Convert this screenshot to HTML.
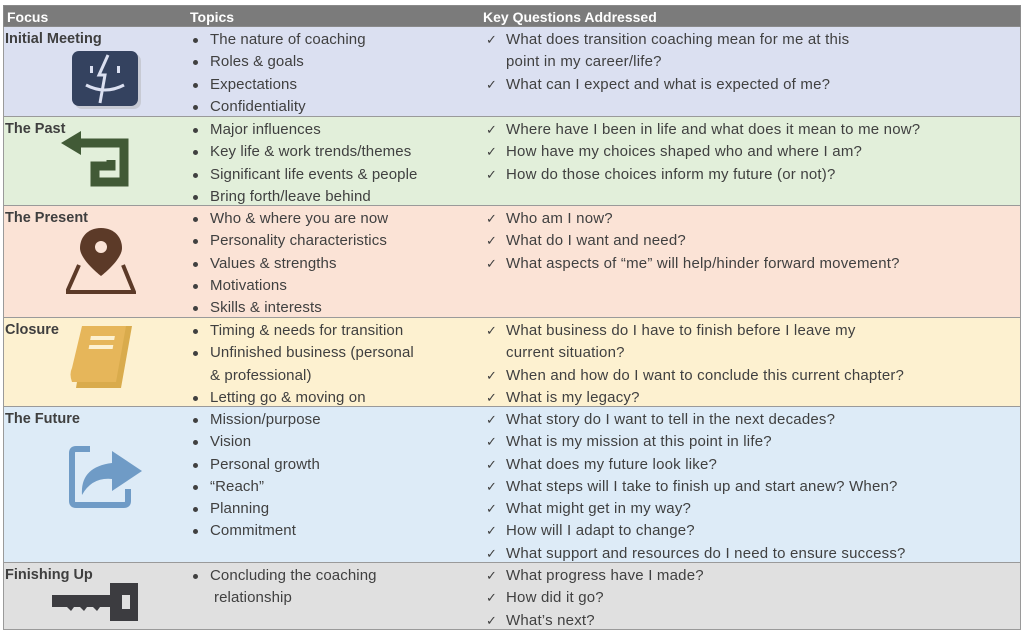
<!DOCTYPE html>
<html><head><meta charset="utf-8"><style>
body{margin:0;width:1024px;height:638px;background:#fff;position:relative;overflow:hidden;font-family:"Liberation Sans",sans-serif;color:#404040}
.r{position:absolute;left:3px;width:1018px;border:1px solid #9a9a9a;border-top:none;box-sizing:border-box}
.hd{position:absolute;left:3px;top:5px;width:1018px;height:22px;background:#7b7b7b;border:1px solid #8a8a8a;box-sizing:border-box;color:#fff;font-weight:bold;font-size:14px}
.hd span{position:absolute;top:3px}
.f{position:absolute;left:1px;top:4px;font-weight:bold;font-size:14.5px;color:#3f3f3f}
.t{position:absolute;left:186px;top:2px;font-size:15px;letter-spacing:0.1px;line-height:22.3px;margin:0;padding:0;list-style:none}
.t li{padding-left:20px;position:relative}
.t li:before{content:"";position:absolute;left:3px;top:9px;width:5px;height:5px;border-radius:50%;background:#404040}
.q{position:absolute;left:480px;top:2px;font-size:15px;letter-spacing:0.2px;line-height:22.3px;margin:0;padding:0;list-style:none}
.q li{padding-left:22px;position:relative}
.q li.c:before{content:"✓";position:absolute;left:2px;top:0;font-size:13px}
.t li.n:before{display:none}
svg{position:absolute}
</style></head><body>
<div class="hd"><span style="left:3px">Focus</span><span style="left:186px">Topics</span><span style="left:479px">Key Questions Addressed</span></div>

<div class="r" style="top:27px;height:90px;background:#dbe0f1">
<div class="f">Initial Meeting</div>
<svg style="left:68px;top:24px" width="70" height="60"><rect x="3" y="3" width="66" height="55" rx="7" fill="#aaa" opacity=".4"/><rect x="0" y="0" width="66" height="55" rx="7" fill="#34425f"/><path d="M36 4 L27 24 L33 24 L28 52" stroke="#dbe0f1" stroke-width="3" fill="none"/><rect x="18" y="15" width="3" height="7" fill="#dbe0f1"/><rect x="45" y="15" width="3" height="7" fill="#dbe0f1"/><path d="M14 34 Q33 44 52 34" stroke="#dbe0f1" stroke-width="3" fill="none"/></svg>
<ul class="t"><li>The nature of coaching</li><li>Roles &amp; goals</li><li>Expectations</li><li>Confidentiality</li></ul>
<ul class="q"><li class="c">What does transition coaching mean for me at this</li><li>point in my career/life?</li><li class="c">What can I expect and what is expected of me?</li></ul>
</div>

<div class="r" style="top:117px;height:89px;background:#e2efda">
<div class="f">The Past</div>
<svg style="left:57px;top:13px" width="72" height="62"><path d="M0 13 L20 1 L20 25 Z" fill="#415a36"/><path d="M18 13 L63 13 L63 52 L34 52 L34 36 L50 36 L50 30" stroke="#415a36" stroke-width="9" fill="none" stroke-linejoin="miter"/></svg>
<ul class="t"><li>Major influences</li><li>Key life &amp; work trends/themes</li><li>Significant life events &amp; people</li><li>Bring forth/leave behind</li></ul>
<ul class="q"><li class="c">Where have I been in life and what does it mean to me now?</li><li class="c">How have my choices shaped who and where I am?</li><li class="c">How do those choices inform my future (or not)?</li></ul>
</div>

<div class="r" style="top:206px;height:112px;background:#fbe3d6">
<div class="f">The Present</div>
<svg style="left:62px;top:22px" width="70" height="70"><path d="M35 0 C21 0 14 10 14 20 C14 32 35 48 35 48 C35 48 56 32 56 20 C56 10 49 0 35 0 Z" fill="#5c3a28"/><circle cx="35" cy="19" r="6" fill="#fbe3d6"/><path d="M13 37 L1 64 L68 64 L57 37" stroke="#5c3a28" stroke-width="4" fill="none"/></svg>
<ul class="t"><li>Who &amp; where you are now</li><li>Personality characteristics</li><li>Values &amp; strengths</li><li>Motivations</li><li>Skills &amp; interests</li></ul>
<ul class="q"><li class="c">Who am I now?</li><li class="c">What do I want and need?</li><li class="c">What aspects of “me” will help/hinder forward movement?</li></ul>
</div>

<div class="r" style="top:318px;height:89px;background:#fdf1d0">
<div class="f">Closure</div>
<svg style="left:62px;top:6px" width="72" height="70"><path d="M20 2 L66 2 L55 64 L10 64 Z" fill="#d9ab4c"/><path d="M16 2 L60 2 L50 58 L6 58 Q3 50 6 44 Z" fill="#e6b65a"/><rect x="27" y="12" width="24" height="4" fill="#fdf1d0" transform="skewX(-10)"/><rect x="27" y="21" width="24" height="4" fill="#fdf1d0" transform="skewX(-10)"/></svg>
<ul class="t"><li>Timing &amp; needs for transition</li><li>Unfinished business (personal</li><li class="n">&amp; professional)</li><li>Letting go &amp; moving on</li></ul>
<ul class="q"><li class="c">What business do I have to finish before I leave my</li><li>current situation?</li><li class="c">When and how do I want to conclude this current chapter?</li><li class="c">What is my legacy?</li></ul>
</div>

<div class="r" style="top:407px;height:156px;background:#ddebf7">
<div class="f">The Future</div>
<svg style="left:64px;top:38px" width="80" height="70"><path d="M22 4 L8 4 Q4 4 4 8 L4 56 Q4 60 8 60 L56 60 Q60 60 60 56 L60 44" stroke="#6f9bc6" stroke-width="6" fill="none"/><path d="M14 50 Q12 22 44 18 L44 6 L74 26 L44 46 L44 34 Q24 32 14 50 Z" fill="#6f9bc6"/></svg>
<ul class="t"><li>Mission/purpose</li><li>Vision</li><li>Personal growth</li><li>“Reach”</li><li>Planning</li><li>Commitment</li></ul>
<ul class="q"><li class="c">What story do I want to tell in the next decades?</li><li class="c">What is my mission at this point in life?</li><li class="c">What does my future look like?</li><li class="c">What steps will I take to finish up and start anew? When?</li><li class="c">What might get in my way?</li><li class="c">How will I adapt to change?</li><li class="c">What support and resources do I need to ensure success?</li></ul>
</div>

<div class="r" style="top:563px;height:67px;background:#e0e0e0">
<div class="f">Finishing Up</div>
<svg style="left:46px;top:20px" width="90" height="40"><path d="M2 12 L60 12 L60 0 L88 0 L88 38 L60 38 L60 24 L50 24 L47 28 L43 24 L37 24 L34 28 L30 24 L24 24 L21 28 L17 24 L2 24 Z" fill="#3c3c40"/><rect x="72" y="12" width="8" height="14" fill="#e0e0e0"/></svg>
<ul class="t"><li>Concluding the coaching</li><li class="n" style="padding-left:24px">relationship</li></ul>
<ul class="q"><li class="c">What progress have I made?</li><li class="c">How did it go?</li><li class="c">What’s next?</li></ul>
</div>
</body></html>
